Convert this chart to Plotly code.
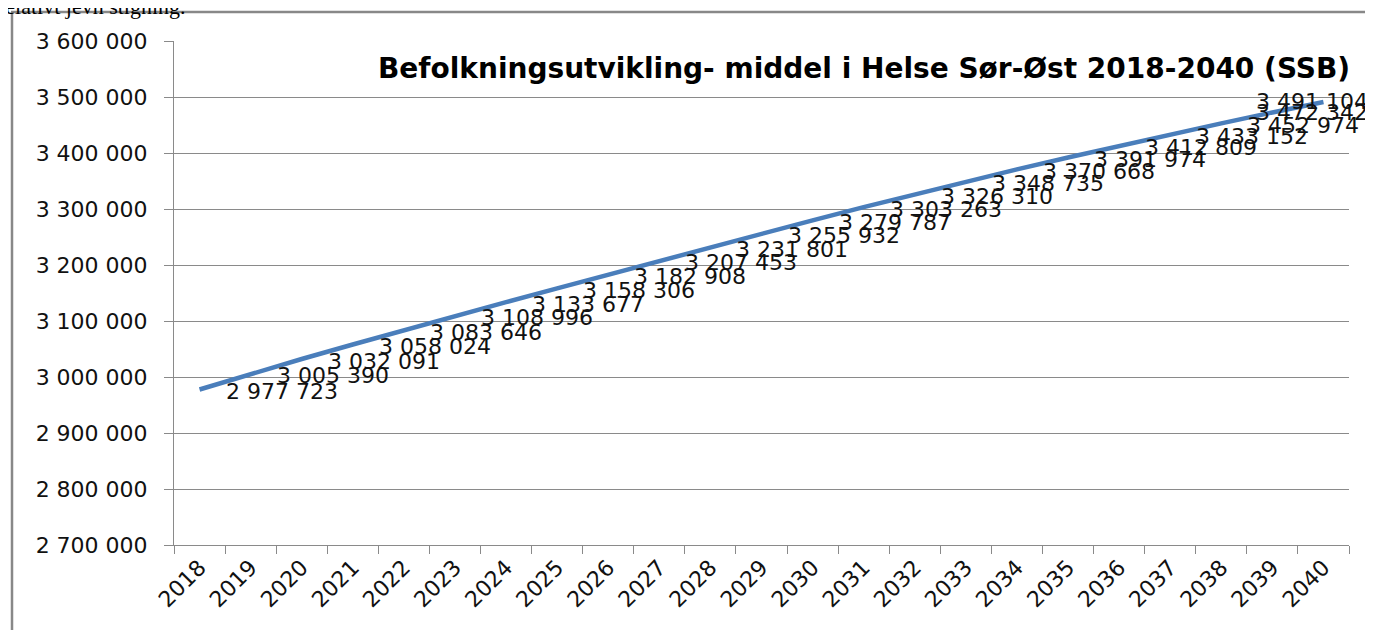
import plotly.graph_objects as go

years = [str(y) for y in range(2018, 2041)]
population = [2977723, 3005390, 3032091, 3058024, 3083646, 3108996, 3133677,
              3158306, 3182908, 3207453, 3231801, 3255932, 3279787, 3303263,
              3326310, 3348735, 3370668, 3391974, 3412809, 3433152, 3452974,
              3472342, 3491104]
y_ticks = [2700000, 2800000, 2900000, 3000000, 3100000, 3200000, 3300000,
           3400000, 3500000, 3600000]
title_text = "Befolkningsutvikling- middel i Helse Sør-Øst 2018-2040 (SSB)"
top_text = "relativt jevn stigning."

# page has an 8px body margin; work in page pixels and convert
OFF = 8
W, H = 1373 - OFF, 630 - OFF
PLOT_L, PLOT_R, PLOT_T, PLOT_B = 174, 1349, 41, 545   # page px
L = PLOT_L - OFF
T = PLOT_T - OFF
R = W - (PLOT_R - OFF)
B = H - (PLOT_B - OFF)
PW = PLOT_R - PLOT_L
PH = PLOT_B - PLOT_T

FONT = "DejaVu Sans"
GRID = "#8a8a8a"
TXT = "#111111"

def fmt(v):
    return f"{v:,}".replace(",", " ")

def px_to_paper_x(px):
    return (px - PLOT_L) / PW

def px_to_paper_y(py):
    return (PLOT_B - py) / PH

fig = go.Figure()
fig.add_trace(go.Scatter(
    x=years, y=population, mode="lines",
    line=dict(color="#4A7EBB", width=4.5),
    hoverinfo="skip", showlegend=False,
))

annotations = []
n = len(years)
LABEL_W = 117
RIGHT_LIMIT = 1370
for i, v in enumerate(population):
    cx = PLOT_L + PW * (i + 0.5) / n
    if cx + 26 + LABEL_W > RIGHT_LIMIT:
        annotations.append(dict(x=i, y=v, xref="x", yref="y", text=fmt(v),
                                showarrow=False, xanchor="right", yanchor="middle",
                                xshift=RIGHT_LIMIT - cx, yshift=0,
                                font=dict(family=FONT, size=22, color=TXT)))
    else:
        annotations.append(dict(x=i, y=v, xref="x", yref="y", text=fmt(v),
                                showarrow=False, xanchor="left", yanchor="middle",
                                xshift=24, yshift=-2,
                                font=dict(family=FONT, size=22, color=TXT)))

annotations.append(dict(
    x=px_to_paper_x(376), y=px_to_paper_y(68), xref="paper", yref="paper",
    text="<b>" + title_text + "</b>", showarrow=False, xanchor="left", yanchor="middle",
    font=dict(family="DejaVu Sans", size=28, color="#000000")))

annotations.append(dict(
    x=px_to_paper_x(-4), y=px_to_paper_y(21), xref="paper", yref="paper",
    text=top_text, showarrow=False, xanchor="left", yanchor="bottom",
    font=dict(family="Liberation Serif", size=22, color="#000000")))

shapes = [
    dict(type="line", xref="paper", yref="paper",
         x0=px_to_paper_x(12), x1=px_to_paper_x(12),
         y0=px_to_paper_y(12), y1=px_to_paper_y(660),
         line=dict(color="#888888", width=2.5)),
    dict(type="line", xref="paper", yref="paper",
         x0=px_to_paper_x(11), x1=px_to_paper_x(1390),
         y0=px_to_paper_y(12), y1=px_to_paper_y(12),
         line=dict(color="#888888", width=2.5)),
]

fig.update_layout(
    width=W, height=H,
    margin=dict(l=L, r=R, t=T, b=B, pad=0),
    paper_bgcolor="white", plot_bgcolor="white",
    annotations=annotations,
    shapes=shapes,
    xaxis=dict(
        type="category", range=[-0.5, n - 0.5],
        tickson="boundaries", ticks="outside", ticklen=8, tickcolor=GRID, tickwidth=1,
        showline=True, linecolor=GRID, linewidth=1, showgrid=False,
        tickangle=-45, tickfont=dict(family=FONT, size=22, color=TXT),
        zeroline=False,
    ),
    yaxis=dict(
        range=[2700000, 3600000], tickvals=y_ticks,
        ticktext=[fmt(v) for v in y_ticks],
        ticks="outside", ticklen=9, tickcolor=GRID, tickwidth=1,
        showline=True, linecolor=GRID, linewidth=1,
        showgrid=True, gridcolor=GRID, gridwidth=1,
        tickfont=dict(family=FONT, size=22, color=TXT),
        ticklabelstandoff=12, zeroline=False,
    ),
)

fig.write_html("out.html")
